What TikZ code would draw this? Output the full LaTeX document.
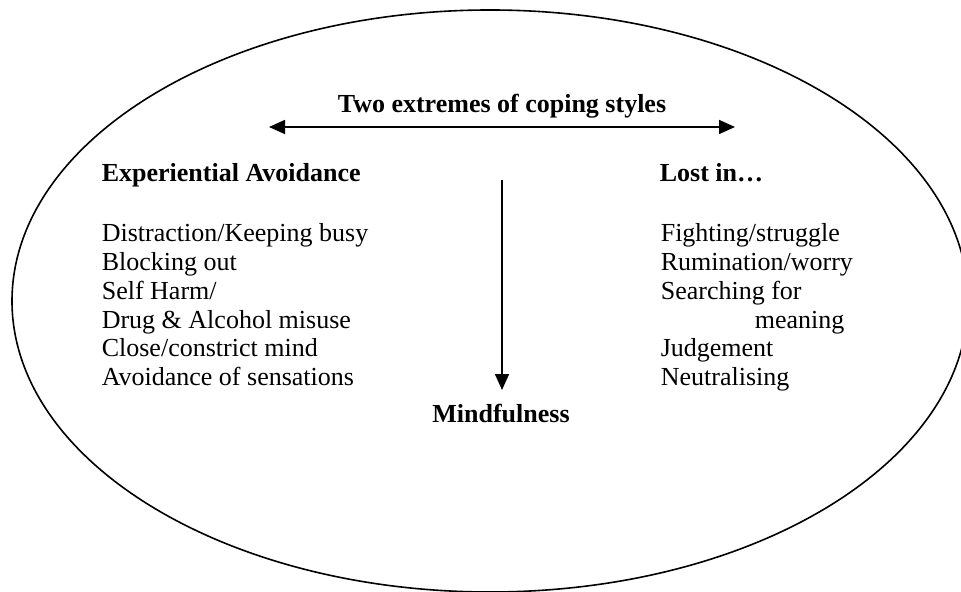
\documentclass[tikz,border=0pt]{standalone}
\usepackage{fontspec}
\setmainfont{Liberation Serif}
\usetikzlibrary{arrows.meta}

\tikzset{
  item/.style={anchor=base west, inner sep=0pt, font=\fontsize{13}{14}\selectfont},
  heading/.style={inner sep=0pt, font=\fontsize{13}{14}\selectfont\bfseries},
}

\begin{document}
\begin{tikzpicture}[x=0.5pt, y=-0.5pt, line width=0.8pt,
    >={Triangle[length=8pt, width=7pt]}]
    \useasboundingbox (0,0) rectangle (961,592);
    \clip (0,0) rectangle (961,592);
    % outer ellipse
    \draw (490,301) ellipse [x radius=478, y radius=291];

    % top: the two extremes
    \node[heading, anchor=base] (extremes) at (502,113) {Two extremes of coping styles};
    \coordinate (ext-l) at (269,127);
    \coordinate (ext-r) at (735,127);
    \draw[<->] (ext-l) -- (ext-r);

    % left column
    \node[heading, anchor=base west] (avoid) at (101,182) {Experiential Avoidance};
    \node[item] (av1) at (101,242) {Distraction/Keeping busy};
    \node[item] (av2) at (101,270.7) {Blocking out};
    \node[item] (av3) at (101,299.4) {Self Harm/};
    \node[item] (av4) at (101,328.1) {Drug \& Alcohol misuse};
    \node[item] (av5) at (101,356.8) {Close/constrict mind};
    \node[item] (av6) at (101,385.5) {Avoidance of sensations};

    % right column
    \node[heading, anchor=base west] (lost) at (659,182) {Lost in…};
    \node[item] (li1) at (660,242) {Fighting/struggle};
    \node[item] (li2) at (660,270.7) {Rumination/worry};
    \node[item] (li3) at (660,299.4) {Searching for};
    \node[item] (li4) at (754,328.1) {meaning};
    \node[item] (li5) at (660,356.8) {Judgement};
    \node[item] (li6) at (660,385.5) {Neutralising};

    % middle: towards mindfulness
    \coordinate (mid-top) at (502,180);
    \coordinate (mid-end) at (502,390);
    \draw[->] (mid-top) -- (mid-end);
    \node[heading, anchor=base] (mind) at (501,422) {Mindfulness};
\end{tikzpicture}
\end{document}
